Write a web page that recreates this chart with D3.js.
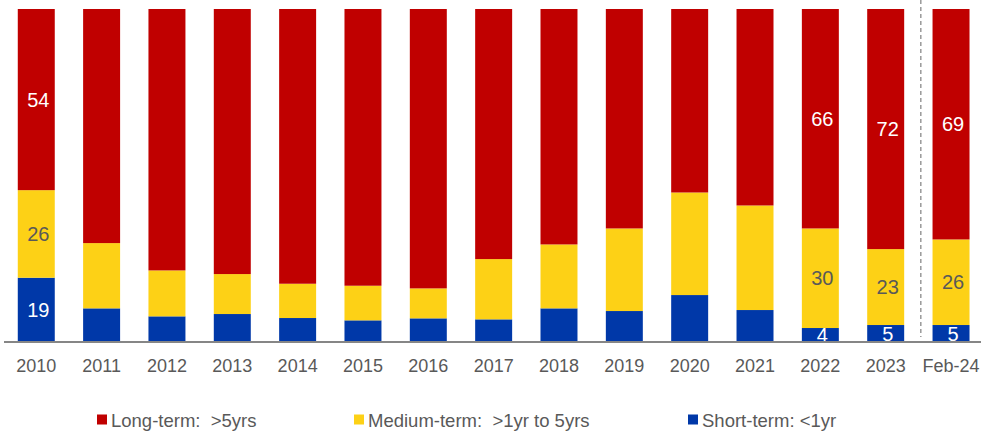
<!DOCTYPE html>
<html>
<head>
<meta charset="utf-8">
<script src="https://cdn.jsdelivr.net/npm/d3@7"></script>
<style>
  html, body { margin: 0; padding: 0; background: #fff; }
  svg { display: block; font-family: "Liberation Sans", Arial, sans-serif; }
</style>
</head>
<body>
<svg id="chart" width="981" height="431"></svg>
<script>
const categories = ["2010","2011","2012","2013","2014","2015","2016","2017","2018","2019","2020","2021","2022","2023","Feb-24"];
const shortTerm  = [19.3, 10.1, 7.7, 8.4, 7.2, 6.5, 7.1, 6.8, 10.1, 9.3, 14.1, 9.6, 4.2, 5.1, 5.1];
const mediumTerm = [26.3, 19.6, 13.8, 12.0, 10.3, 10.4, 9.0, 18.1, 19.2, 24.8, 30.8, 31.4, 29.9, 22.8, 25.7];
const longTerm   = [54.4, 70.3, 78.5, 79.6, 82.5, 83.1, 83.9, 75.1, 70.7, 65.9, 55.1, 59.0, 65.9, 72.1, 69.2];
const labelled   = ["2010", "2022", "2023", "Feb-24"];
const seriesNames = ["Long-term:  >5yrs", "Medium-term:  >1yr to 5yrs", "Short-term: <1yr"];
const colors = { short: "#0038A8", medium: "#FDD116", long: "#C00000" };

const svg = d3.select("#chart");
const x = d3.scaleBand().domain(categories).range([3.6, 983.7]).paddingInner(0.434).paddingOuter(0.217);
const y = d3.scaleLinear().domain([0, 100]).range([342, 9]);

const rows = categories.map((c, i) => ({ cat: c, short: shortTerm[i], medium: mediumTerm[i], long: longTerm[i] }));
const keys = ["short", "medium", "long"];
const stacked = d3.stack().keys(keys)(rows);

const g = svg.append("g");
g.selectAll("g.series").data(stacked).join("g")
  .attr("class", "series")
  .attr("fill", d => colors[d.key])
  .selectAll("rect").data(d => d).join("rect")
  .attr("x", d => x(d.data.cat))
  .attr("width", x.bandwidth())
  .attr("y", d => y(d[1]))
  .attr("height", d => y(d[0]) - y(d[1]));

// value labels
stacked.forEach(s => {
  s.forEach(d => {
    if (!labelled.includes(d.data.cat)) return;
    const v = d[1] - d[0];
    g.append("text")
      .attr("x", x(d.data.cat) + x.bandwidth() / 2 + 2)
      .attr("y", (y(d[0]) + y(d[1])) / 2)
      .attr("dy", "0.36em")
      .attr("text-anchor", "middle")
      .attr("font-size", 20)
      .attr("fill", s.key === "medium" ? "#595959" : "#ffffff")
      .text(Math.round(v));
  });
});

// clip bottom of labels below baseline
svg.append("rect").attr("x", 0).attr("y", 343).attr("width", 981).attr("height", 10).attr("fill", "#fff");

// x axis
const xAxis = d3.axisBottom(x).tickSize(0).tickPadding(0);
const ax = svg.append("g").attr("transform", "translate(0,342)").call(xAxis);
ax.select(".domain").remove();
ax.selectAll("text").attr("font-size", 18).attr("fill", "#595959")
  .attr("font-family", "Liberation Sans, Arial, sans-serif")
  .attr("dy", null).attr("y", 30);
svg.append("line").attr("x1", 4).attr("x2", 981).attr("y1", 342).attr("y2", 342)
  .attr("stroke", "#868686").attr("stroke-width", 2);

// dashed separator between 2023 and Feb-24
const sepX = x("Feb-24") - 11.7;
svg.append("line").attr("x1", sepX).attr("x2", sepX)
  .attr("y1", 0).attr("y2", 337)
  .attr("stroke", "#7f7f7f").attr("stroke-width", 1.2).attr("stroke-dasharray", "4,3");

// legend
const legendItems = [
  { name: seriesNames[0], color: colors.long, x: 97 },
  { name: seriesNames[1], color: colors.medium, x: 354 },
  { name: seriesNames[2], color: colors.short, x: 688 }
];
const lg = svg.append("g");
legendItems.forEach(it => {
  lg.append("rect").attr("x", it.x).attr("y", 414.5).attr("width", 10).attr("height", 10).attr("fill", it.color);
  lg.append("text").attr("x", it.x + 14).attr("y", 426.5)
    .attr("font-size", 18.5).attr("fill", "#595959")
    .attr("xml:space", "preserve").style("white-space", "pre")
    .text(it.name);
});
</script>
</body>
</html>
